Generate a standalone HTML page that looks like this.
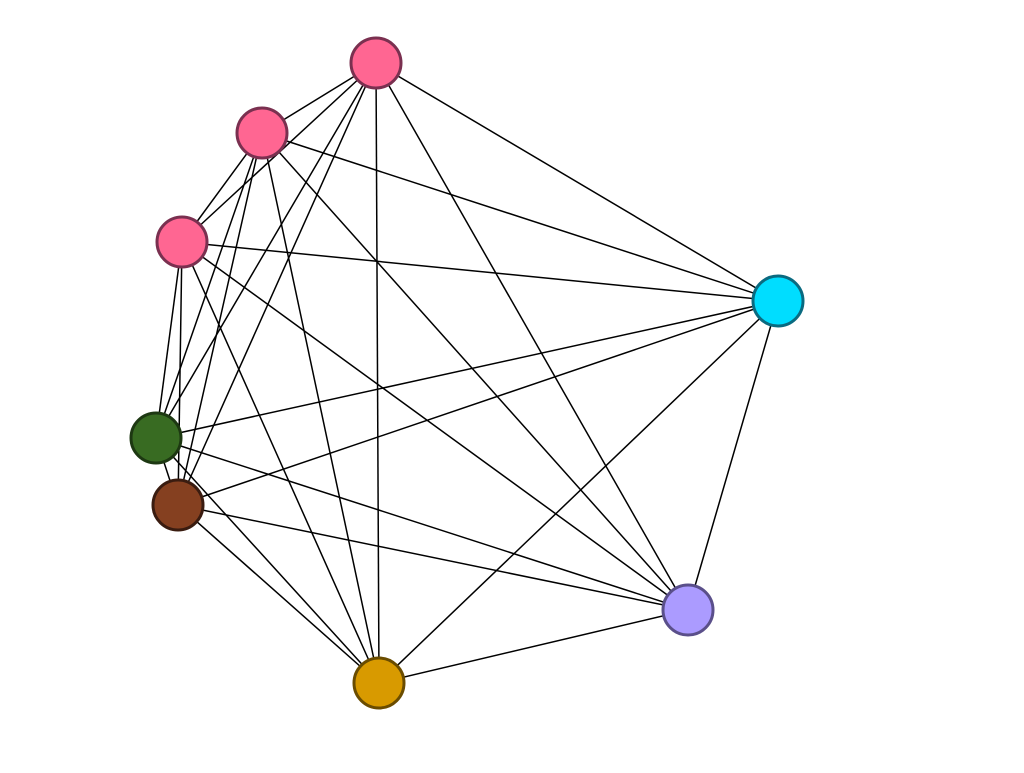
<!DOCTYPE html>
<html><head><style>html,body{margin:0;padding:0;background:#fff}</style></head>
<body>
<svg width="1024" height="768" xmlns="http://www.w3.org/2000/svg">
<g stroke="#000" stroke-width="1.5">
<line x1="376" y1="63" x2="262" y2="133"/>
<line x1="376" y1="63" x2="182" y2="242"/>
<line x1="376" y1="63" x2="778" y2="301"/>
<line x1="376" y1="63" x2="156" y2="438"/>
<line x1="376" y1="63" x2="178" y2="505"/>
<line x1="376" y1="63" x2="379" y2="683"/>
<line x1="376" y1="63" x2="688" y2="610"/>
<line x1="262" y1="133" x2="182" y2="242"/>
<line x1="262" y1="133" x2="778" y2="301"/>
<line x1="262" y1="133" x2="156" y2="438"/>
<line x1="262" y1="133" x2="178" y2="505"/>
<line x1="262" y1="133" x2="379" y2="683"/>
<line x1="262" y1="133" x2="688" y2="610"/>
<line x1="182" y1="242" x2="778" y2="301"/>
<line x1="182" y1="242" x2="156" y2="438"/>
<line x1="182" y1="242" x2="178" y2="505"/>
<line x1="182" y1="242" x2="379" y2="683"/>
<line x1="182" y1="242" x2="688" y2="610"/>
<line x1="778" y1="301" x2="156" y2="438"/>
<line x1="778" y1="301" x2="178" y2="505"/>
<line x1="778" y1="301" x2="379" y2="683"/>
<line x1="778" y1="301" x2="688" y2="610"/>
<line x1="156" y1="438" x2="178" y2="505"/>
<line x1="156" y1="438" x2="379" y2="683"/>
<line x1="156" y1="438" x2="688" y2="610"/>
<line x1="178" y1="505" x2="379" y2="683"/>
<line x1="178" y1="505" x2="688" y2="610"/>
<line x1="379" y1="683" x2="688" y2="610"/>
</g>
<g stroke-width="3">
<circle cx="376" cy="63" r="25" fill="#ff6692" stroke="#7a3050"/>
<circle cx="262" cy="133" r="25" fill="#ff6692" stroke="#7a3050"/>
<circle cx="182" cy="242" r="25" fill="#ff6692" stroke="#7a3050"/>
<circle cx="778" cy="301" r="25" fill="#00ddff" stroke="#0a6a80"/>
<circle cx="156" cy="438" r="25" fill="#386b22" stroke="#1d3812"/>
<circle cx="178" cy="505" r="25" fill="#854020" stroke="#3a1c10"/>
<circle cx="379" cy="683" r="25" fill="#d89a00" stroke="#6a4c00"/>
<circle cx="688" cy="610" r="25" fill="#ab9bff" stroke="#5a4f8a"/>
</g>
</svg>
</body></html>
